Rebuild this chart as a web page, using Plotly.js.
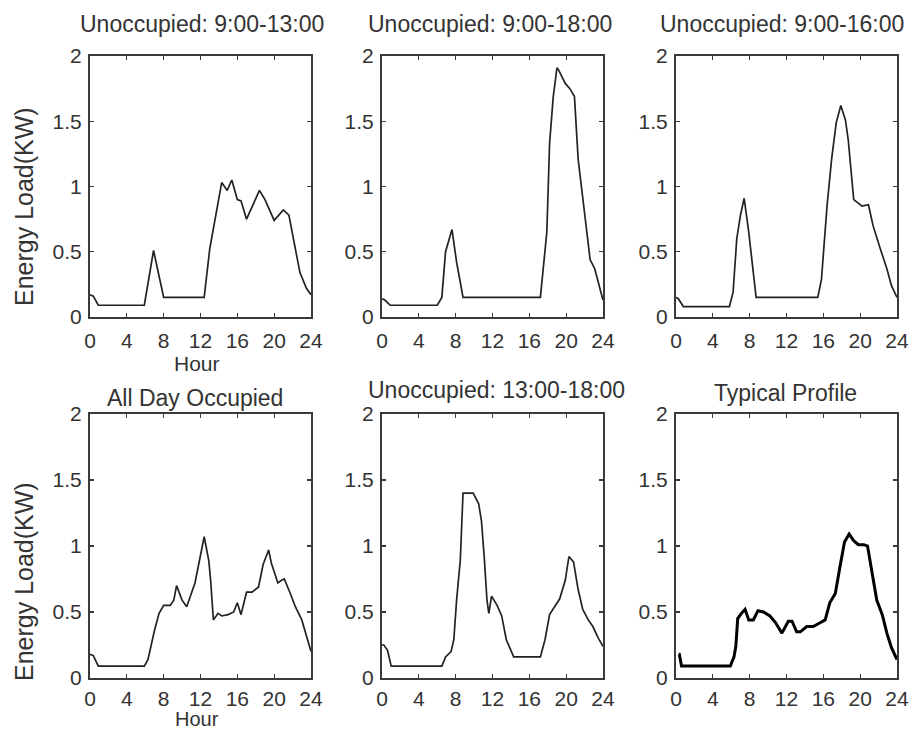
<!DOCTYPE html>
<html>
<head>
<meta charset="utf-8">
<script src="https://cdn.plot.ly/plotly-3.0.1.min.js"></script>
<style>html,body{margin:0;padding:0;background:#fff;}#chart{width:912px;height:731px;}</style>
</head>
<body>
<div id="chart"></div>
<script>
// Panel titles
const panelTitles = ["Unoccupied: 9:00-13:00", "Unoccupied: 9:00-18:00", "Unoccupied: 9:00-16:00",
                     "All Day Occupied", "Unoccupied: 13:00-18:00", "Typical Profile"];
const xTickVals = [0, 4, 8, 12, 16, 20, 24];
const xTickText = ["0", "4", "8", "12", "16", "20", "24"];
const yTickVals = [0, 0.5, 1, 1.5, 2];
const yTickText = ["0", "0.5", "1", "1.5", "2"];
const xLabel = "Hour";
const yLabel = "Energy Load(KW)";

// Panel 1: Unoccupied 9:00-13:00
const hours1 = [0, 0.36, 0.9, 5.9, 6.9, 8.0, 12.4, 13.0, 14.3, 14.9, 15.4, 16.0, 16.4, 17.0, 18.4, 19.0, 20.0, 21.0, 21.6, 22.1, 22.8, 23.5, 24];
const load1  = [0.17, 0.16, 0.09, 0.09, 0.51, 0.15, 0.15, 0.52, 1.03, 0.97, 1.05, 0.9, 0.89, 0.75, 0.97, 0.9, 0.74, 0.82, 0.78, 0.6, 0.34, 0.22, 0.17];

// Panel 2: Unoccupied 9:00-18:00
const hours2 = [0, 0.3, 0.9, 6.0, 6.5, 6.9, 7.6, 8.1, 8.8, 17.2, 17.9, 18.2, 18.6, 19.0, 19.2, 19.9, 20.4, 20.9, 21.3, 22.0, 22.6, 23.1, 23.8, 24];
const load2  = [0.14, 0.13, 0.09, 0.09, 0.15, 0.5, 0.67, 0.42, 0.15, 0.15, 0.65, 1.33, 1.69, 1.91, 1.89, 1.79, 1.75, 1.69, 1.21, 0.8, 0.44, 0.37, 0.17, 0.13];

// Panel 3: Unoccupied 9:00-16:00
const hours3 = [0, 0.25, 0.8, 5.8, 6.2, 6.6, 7.0, 7.4, 7.9, 8.7, 15.4, 15.8, 16.4, 16.9, 17.4, 17.9, 18.4, 18.7, 19.3, 20.2, 20.9, 21.4, 22.2, 22.9, 23.4, 24];
const load3  = [0.15, 0.14, 0.08, 0.08, 0.19, 0.6, 0.78, 0.91, 0.65, 0.15, 0.15, 0.29, 0.85, 1.21, 1.49, 1.62, 1.51, 1.36, 0.9, 0.85, 0.86, 0.7, 0.52, 0.37, 0.24, 0.15];

// Panel 4: All Day Occupied
const hours4 = [0, 0.36, 0.9, 5.9, 6.3, 7.0, 7.5, 8.0, 8.7, 9.1, 9.4, 10.0, 10.5, 11.4, 12.0, 12.4, 12.9, 13.1, 13.4, 13.9, 14.3, 15.0, 15.6, 16.0, 16.4, 17.0, 17.6, 18.3, 18.8, 19.4, 19.7, 20.4, 20.8, 21.1, 21.7, 22.3, 23.0, 23.6, 24];
const load4  = [0.18, 0.17, 0.09, 0.09, 0.14, 0.36, 0.49, 0.55, 0.55, 0.59, 0.7, 0.59, 0.54, 0.72, 0.93, 1.07, 0.89, 0.74, 0.44, 0.49, 0.47, 0.48, 0.5, 0.57, 0.48, 0.65, 0.65, 0.69, 0.86, 0.97, 0.87, 0.72, 0.74, 0.75, 0.65, 0.54, 0.44, 0.29, 0.2];

// Panel 5: Unoccupied 13:00-18:00
const hours5 = [0, 0.2, 0.6, 1.0, 6.5, 6.9, 7.5, 7.8, 8.1, 8.5, 8.8, 9.2, 9.9, 10.5, 10.8, 11.1, 11.4, 11.6, 11.9, 12.5, 13.0, 13.5, 14.3, 17.2, 17.7, 18.2, 18.8, 19.3, 19.9, 20.3, 20.8, 21.3, 21.8, 22.4, 22.9, 23.5, 24];
const load5  = [0.25, 0.25, 0.21, 0.09, 0.09, 0.16, 0.2, 0.29, 0.59, 0.89, 1.4, 1.4, 1.4, 1.32, 1.19, 0.92, 0.59, 0.49, 0.62, 0.55, 0.47, 0.29, 0.16, 0.16, 0.29, 0.48, 0.55, 0.6, 0.74, 0.92, 0.88, 0.67, 0.52, 0.44, 0.39, 0.3, 0.24];

// Panel 6: Typical Profile
const hours6 = [0.3, 0.36, 0.6, 5.9, 6.3, 6.5, 6.7, 7.1, 7.5, 7.9, 8.4, 8.9, 9.5, 10.2, 10.8, 11.5, 12.2, 12.6, 13.1, 13.5, 14.2, 14.9, 15.7, 16.2, 16.7, 17.3, 17.8, 18.3, 18.8, 19.3, 19.8, 20.4, 20.8, 21.3, 21.8, 22.4, 22.9, 23.4, 24];
const load6  = [0.18, 0.18, 0.09, 0.09, 0.16, 0.24, 0.45, 0.49, 0.52, 0.44, 0.44, 0.51, 0.5, 0.47, 0.42, 0.34, 0.43, 0.43, 0.35, 0.35, 0.39, 0.39, 0.42, 0.44, 0.57, 0.64, 0.84, 1.03, 1.09, 1.04, 1.01, 1.01, 1.0, 0.79, 0.59, 0.48, 0.34, 0.23, 0.14];

const allHours = [hours1, hours2, hours3, hours4, hours5, hours6];
const allLoads = [load1, load2, load3, load4, load5, load6];

const W = 912, H = 731;
const colPx = [[90, 311], [382, 603], [676, 897]];
const rowPx = [[56, 317], [414, 678]];
const px2x = p => p / W;
const px2y = p => 1 - p / H;

const traces = [];
const layout = {
  width: W, height: H,
  margin: {l: 0, r: 0, t: 0, b: 0},
  paper_bgcolor: "#ffffff", plot_bgcolor: "#ffffff",
  showlegend: false,
  annotations: []
};

const tickFont = {family: "Liberation Sans, Arial, sans-serif", size: 21, color: "#333333"};
const textFont = {family: "Liberation Sans, Arial, sans-serif", size: 23, color: "#333333"};

const titlePos = [[202, 24], [490, 24], [782, 24], [195, 398], [497, 390], [785, 393]];

for (let i = 0; i < 6; i++) {
  const r = Math.floor(i / 3), c = i % 3;
  const sfx = i === 0 ? "" : String(i + 1);
  traces.push({
    type: "scatter", mode: "lines",
    x: allHours[i], y: allLoads[i],
    xaxis: "x" + sfx, yaxis: "y" + sfx,
    line: {color: i === 5 ? "#000000" : "#222222", width: i === 5 ? 3 : 1.7},
    hoverinfo: "x+y"
  });
  const common = {
    showline: true, linecolor: "#3a3a3a", linewidth: 2, mirror: "ticks",
    ticks: "inside", ticklen: 4, tickwidth: 1.2, tickcolor: "#3a3a3a",
    showgrid: false, zeroline: false, tickfont: tickFont, fixedrange: true
  };
  layout["xaxis" + sfx] = Object.assign({}, common, {
    domain: [px2x(colPx[c][0]), px2x(colPx[c][1])],
    range: [0, 24], tickmode: "array", tickvals: xTickVals, ticktext: xTickText,
    anchor: "y" + sfx, ticklabelstandoff: r === 0 ? 4 : 1
  });
  layout["yaxis" + sfx] = Object.assign({}, common, {
    domain: [px2y(rowPx[r][1]), px2y(rowPx[r][0])],
    range: [0, 2], tickmode: "array", tickvals: yTickVals, ticktext: yTickText,
    anchor: "x" + sfx, ticklabelstandoff: 2
  });
  layout.annotations.push({
    text: panelTitles[i], xref: "paper", yref: "paper",
    x: px2x(titlePos[i][0]), y: px2y(titlePos[i][1]),
    xanchor: "center", yanchor: "middle", showarrow: false, font: textFont
  });
}

// axis titles on left column
const yTitleCenters = [207, 582];
for (let r = 0; r < 2; r++) {
  layout.annotations.push({
    text: yLabel, xref: "paper", yref: "paper",
    x: px2x(24), y: px2y(yTitleCenters[r]), textangle: -90,
    xanchor: "center", yanchor: "middle", showarrow: false,
    font: {family: "Liberation Sans, Arial, sans-serif", size: 25, color: "#333333"}
  });
}
layout.annotations.push({
  text: xLabel, xref: "paper", yref: "paper",
  x: px2x(197), y: px2y(363), xanchor: "center", yanchor: "middle",
  showarrow: false, font: {family: "Liberation Sans, Arial, sans-serif", size: 21, color: "#333333"}
});
layout.annotations.push({
  text: xLabel, xref: "paper", yref: "paper",
  x: px2x(197), y: 0, xanchor: "center", yanchor: "bottom",
  showarrow: false, borderpad: 0,
  font: {family: "Liberation Sans, Arial, sans-serif", size: 20, color: "#333333"}
});

Plotly.newPlot("chart", traces, layout, {staticPlot: true, displayModeBar: false});
</script>
</body>
</html>
